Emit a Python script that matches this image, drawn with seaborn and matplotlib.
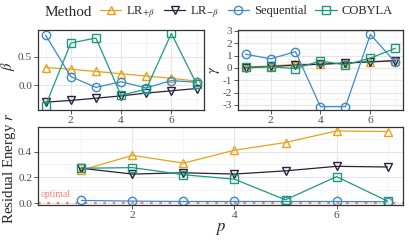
import numpy as np
import pandas as pd
import seaborn as sns
import matplotlib.pyplot as plt
from matplotlib.lines import Line2D
from matplotlib.ticker import MultipleLocator

# values
p = [1, 2, 3, 4, 5, 6, 7]
methods = ["LR$_{+\\beta}$", "LR$_{-\\beta}$", "Sequential", "COBYLA"]

beta_lr_plus = [0.31, 0.28, 0.24, 0.20, 0.16, 0.12, 0.07]
beta_lr_minus = [-0.30, -0.27, -0.23, -0.19, -0.14, -0.10, -0.06]
beta_seq = [0.88, 0.15, -0.04, 0.06, -0.05, 0.08, 0.05]
beta_cobyla = [-0.36, 0.74, 0.83, -0.18, -0.07, 0.91, 0.02]

gamma_lr_plus = [0.10, 0.15, 0.30, 0.30, 0.40, 0.50, 0.55]
gamma_lr_minus = [0.00, 0.12, 0.22, 0.30, 0.40, 0.50, 0.60]
gamma_seq = [1.12, 0.74, 1.32, -3.14, -3.14, 2.72, 0.45]
gamma_cobyla = [0.05, 0.10, -0.05, 0.57, 0.25, 0.80, 1.60]

r_lr_plus = [0.255, 0.37, 0.31, 0.41, 0.47, 0.56, 0.555]
r_lr_minus = [0.27, 0.225, 0.235, 0.225, 0.25, 0.285, 0.28]
r_seq = [0.02, 0.015, 0.012, 0.012, 0.012, 0.012, 0.01]
r_cobyla = [0.27, 0.275, 0.22, 0.185, 0.025, 0.205, 0.015]

colors = ["#E9A21A", "#2E1D3E", "#3B8BC9", "#1A9C7C"]
markers = ["^", "v", "o", "s"]

rows = []
for m, b, g, r in zip(methods,
                      [beta_lr_plus, beta_lr_minus, beta_seq, beta_cobyla],
                      [gamma_lr_plus, gamma_lr_minus, gamma_seq, gamma_cobyla],
                      [r_lr_plus, r_lr_minus, r_seq, r_cobyla]):
    for i in range(len(p)):
        rows.append({"Method": m, "p": p[i], "beta": b[i], "gamma": g[i], "r": r[i]})
df = pd.DataFrame(rows)

sns.set_theme(style="whitegrid")
plt.rcParams["font.family"] = ["Liberation Serif", "DejaVu Serif"]
plt.rcParams["mathtext.fontset"] = "stix"
plt.rcParams["axes.unicode_minus"] = False

fig = plt.figure(figsize=(4.09, 2.42), dpi=100)
ax_b = fig.add_axes([0.093, 0.545, 0.406, 0.331])
ax_g = fig.add_axes([0.582, 0.545, 0.403, 0.331])
ax_r = fig.add_axes([0.093, 0.153, 0.892, 0.322])

for ax, col in [(ax_b, "beta"), (ax_g, "gamma"), (ax_r, "r")]:
    for m, c, mk in zip(methods, colors, markers):
        sub = df[df["Method"] == m]
        sns.lineplot(data=sub, x="p", y=col, ax=ax, color=c, marker=mk,
                     markersize=6, markerfacecolor="none", markeredgecolor=c,
                     markeredgewidth=1.0, linewidth=0.9, legend=False)

ax_b.set_xlim(0.7, 7.3)
ax_b.set_ylim(-0.44, 0.97)
ax_b.yaxis.set_major_locator(MultipleLocator(0.5))
ax_b.yaxis.set_minor_locator(MultipleLocator(0.25))
ax_b.set_ylabel("$\\beta$", fontsize=10.5)
ax_b.yaxis.set_label_coords(-0.125, 0.55)

ax_g.set_xlim(0.7, 7.3)
ax_g.set_ylim(-3.42, 3.08)
ax_g.yaxis.set_major_locator(MultipleLocator(1))
ax_g.yaxis.set_minor_locator(MultipleLocator(0.5))
ax_g.set_ylabel("$\\gamma$", fontsize=10.5)
ax_g.yaxis.set_label_coords(-0.1, 0.5)

ax_r.set_xlim(0.15, 7.3)
ax_r.set_ylim(-0.015, 0.59)
ax_r.yaxis.set_major_locator(MultipleLocator(0.2))
ax_r.yaxis.set_minor_locator(MultipleLocator(0.1))
ax_r.axhline(0, color="#F08080", linestyle=(0, (1.2, 3)), linewidth=1.6, zorder=1)
ax_r.text(0.2, 0.03, "optimal", color="#F08080", fontsize=7, va="bottom")
ax_r.set_ylabel("Residual Energy $r$", fontsize=10.8)
ax_r.yaxis.set_label_coords(-0.055, 0.47)
ax_r.set_xlabel("$p$", fontsize=12, labelpad=1)

for ax in [ax_b, ax_g, ax_r]:
    ax.xaxis.set_major_locator(MultipleLocator(2))
    ax.xaxis.set_minor_locator(MultipleLocator(1))
    ax.grid(which="major", color="#E6E6E6", linewidth=0.8)
    ax.grid(which="minor", color="#F2F2F2", linewidth=0.5)
    ax.tick_params(which="major", length=3, width=0.7, color="#555555",
                   labelsize=8.2, labelcolor="#4D4D4D", pad=1.2,
                   bottom=True, left=True)
    ax.tick_params(which="minor", length=0)
    for s in ax.spines.values():
        s.set_color("#333333")
        s.set_linewidth(0.9)
    if ax is not ax_r:
        ax.set_xlabel("")

handles = [Line2D([], [], color=c, marker=mk, markersize=6, markerfacecolor="none",
                  markeredgecolor=c, markeredgewidth=1.0, linewidth=0.9)
           for c, mk in zip(colors, markers)]
fig.text(0.11, 0.95, "Method", fontsize=11, va="center", ha="left")
fig.legend(handles, methods, ncol=4, loc="center left", bbox_to_anchor=(0.245, 0.95),
           frameon=False, fontsize=9, handlelength=1.7, handletextpad=0.4,
           columnspacing=0.7, borderaxespad=0, borderpad=0)

fig.savefig("out.png", dpi=100)
